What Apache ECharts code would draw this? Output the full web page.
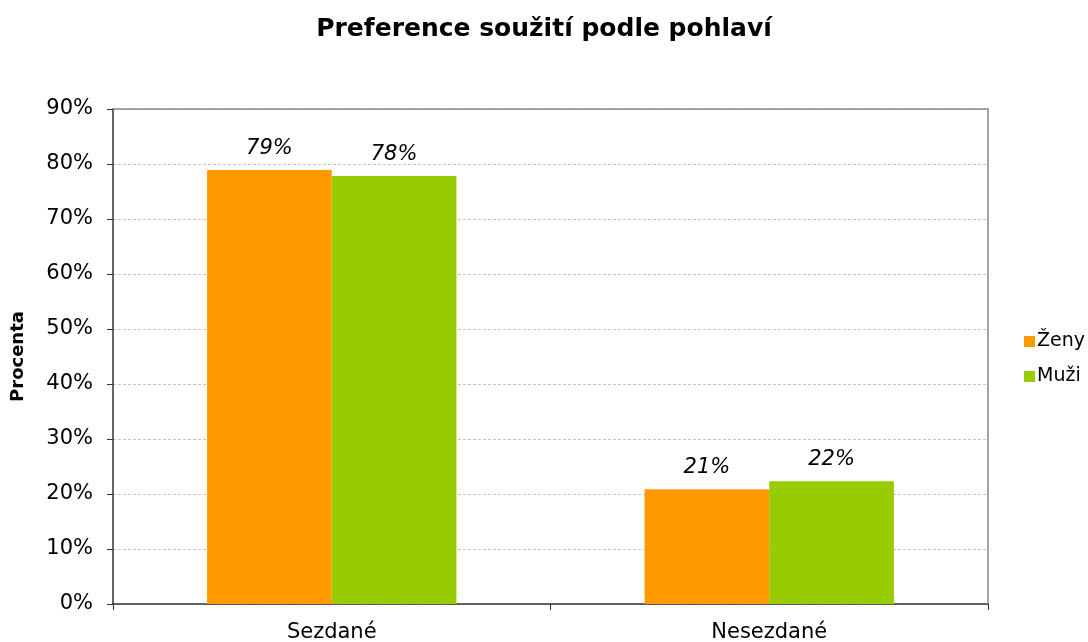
<!DOCTYPE html>
<html>
<head>
<meta charset="utf-8">
<script src="https://cdn.jsdelivr.net/npm/echarts@6/dist/echarts.min.js"></script>
<style>
  html, body { margin: 0; padding: 0; background: #fff; }
  #chart { width: 1088px; height: 642px; }
</style>
</head>
<body>
<div id="chart"></div>
<script>
const categories = ['Sezdané', 'Nesezdané'];
const zeny = [78.9, 20.85];
const muzi = [77.8, 22.3];
const yTicks = [0, 10, 20, 30, 40, 50, 60, 70, 80, 90];

const chart = echarts.init(document.getElementById('chart'));
const font = 'DejaVu Sans, Liberation Sans, sans-serif';

const labelStyle = {
  show: true,
  position: 'top',
  distance: 11,
  fontFamily: font,
  fontSize: 21,
  fontStyle: 'italic',
  color: '#000',
  formatter: p => Math.round(p.value) + '%'
};

const option = {
  backgroundColor: '#fff',
  title: {
    text: 'Preference soužití podle pohlaví',
    left: 'center',
    top: 12,
    textStyle: { fontFamily: font, fontSize: 25, fontWeight: 'bold', color: '#000' }
  },
  legend: {
    orient: 'vertical',
    left: 1019,
    top: 327,
    itemWidth: 11,
    itemHeight: 11,
    itemGap: 16,
    icon: 'rect',
    textStyle: { fontFamily: font, fontSize: 19, color: '#000', padding: [0, 0, 0, -3] },
    data: ['Ženy', 'Muži']
  },
  grid: { left: 113, right: 100, top: 109, bottom: 38, outerBoundsMode: 'none', containLabel: false },
  xAxis: {
    type: 'category',
    data: categories,
    axisLine: { lineStyle: { color: '#333', width: 1.5 } },
    axisTick: { show: true, length: 6, lineStyle: { color: '#333' } },
    axisLabel: { fontFamily: font, fontSize: 21, color: '#000', margin: 18 }
  },
  yAxis: {
    type: 'value',
    min: 0,
    max: 90,
    interval: 10,
    name: 'Procenta',
    nameLocation: 'middle',
    nameGap: 86,
    nameTextStyle: { fontFamily: font, fontSize: 18, fontWeight: 'bold', color: '#000' },
    axisLine: { show: true, lineStyle: { color: '#333', width: 1.5 } },
    axisTick: { show: true, length: 6, lineStyle: { color: '#333' } },
    axisLabel: {
      fontFamily: font, fontSize: 21, color: '#000', margin: 20,
      formatter: v => (yTicks.includes(v) ? v + '%' : '')
    },
    splitLine: { lineStyle: { color: '#c4c4c4', type: [3, 2] } }
  },
  series: [
    {
      name: 'Ženy',
      type: 'bar',
      data: zeny,
      barGap: '0%',
      barCategoryGap: '43%',
      itemStyle: { color: '#ff9900' },
      label: labelStyle
    },
    {
      name: 'Muži',
      type: 'bar',
      data: muzi,
      itemStyle: { color: '#99cc00' },
      label: labelStyle
    }
  ],
  graphic: [
    {
      type: 'polyline',
      shape: { points: [[113, 109], [988, 109], [988, 604]] },
      style: { stroke: '#888', lineWidth: 1.5, fill: null },
      z: 10
    }
  ]
};

chart.setOption(option);
</script>
</body>
</html>
